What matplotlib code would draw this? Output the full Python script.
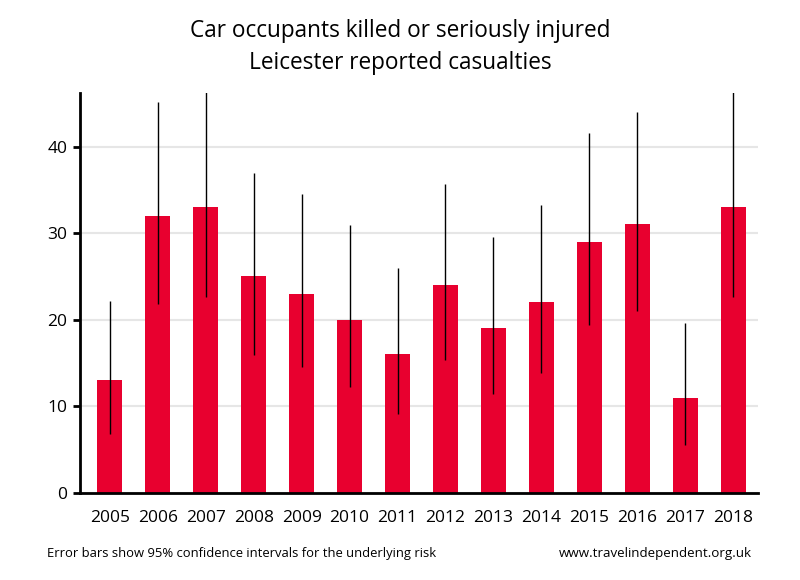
import matplotlib
matplotlib.use('Agg')
import matplotlib.pyplot as plt
import numpy as np

years = ['2005', '2006', '2007', '2008', '2009', '2010', '2011',
         '2012', '2013', '2014', '2015', '2016', '2017', '2018']
casualties = [13, 32, 33, 25, 23, 20, 16, 24, 19, 22, 29, 31, 11, 33]
ci_low = [6.8, 21.8, 22.6, 15.9, 14.5, 12.2, 9.1, 15.3, 11.4, 13.8, 19.4, 21.0, 5.5, 22.6]
ci_high = [22.2, 45.1, 46.8, 36.9, 34.5, 30.9, 26.0, 35.7, 29.6, 33.3, 41.6, 44.0, 19.6, 46.8]

plt.rcParams['font.family'] = ['Open Sans', 'DejaVu Sans']

fig = plt.figure(figsize=(8, 5.8), dpi=100)
ax = fig.add_axes([0.1, 0.15, 0.8475, 0.69])

xs = np.arange(len(years))
ax.bar(xs, casualties, width=0.52, color='#e8002f', zorder=2)
# confidence interval lines
ax.vlines(xs, ci_low, ci_high, color='black', linewidth=1, zorder=3)

ax.set_xlim(-0.625, 13.52)
ax.set_ylim(0, 46.2)
ax.set_yticks([0, 10, 20, 30, 40])
ax.set_xticks(xs)
ax.set_xticklabels(years)
ax.yaxis.grid(True, color='#e6e6e6', linewidth=1.5, zorder=0)
ax.set_axisbelow(True)

for side in ['top', 'right']:
    ax.spines[side].set_visible(False)
ax.spines['left'].set_linewidth(2)
ax.spines['bottom'].set_linewidth(2)
ax.tick_params(axis='x', length=0, pad=12, labelsize=12.5)
ax.tick_params(axis='y', length=5, width=2, labelsize=12.5, pad=4)

fig.text(0.5, 0.946, 'Car occupants killed or seriously injured', ha='center', va='center', fontsize=16.3)
fig.text(0.5, 0.892, 'Leicester reported casualties', ha='center', va='center', fontsize=16.3)
fig.text(0.059, 0.046, 'Error bars show 95% confidence intervals for the underlying risk', ha='left', va='center', fontsize=9.4)
fig.text(0.94, 0.046, 'www.travelindependent.org.uk', ha='right', va='center', fontsize=9.6)

fig.savefig('out.png', dpi=100)
